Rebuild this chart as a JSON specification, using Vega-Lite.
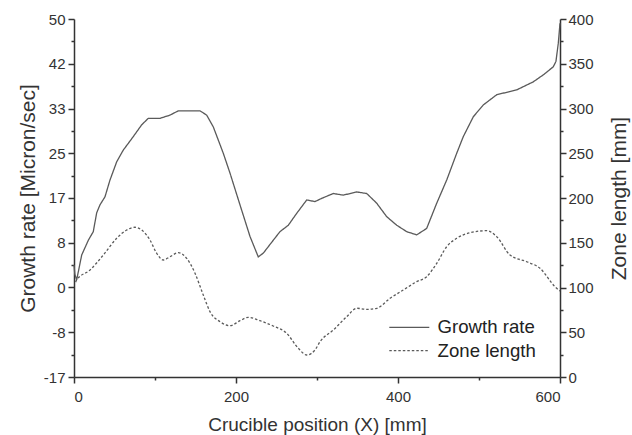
{
  "$schema": "https://vega.github.io/schema/vega-lite/v6.json",
  "autosize": "none",
  "width": 486,
  "height": 358,
  "padding": {"left": 74, "top": 19, "right": 72, "bottom": 58},
  "background": "white",
  "datasets": {
    "growth": [
      {"x": 0, "rate": 4.2}, {"x": 1, "rate": 2.5}, {"x": 3.3, "rate": 1.4},
      {"x": 9.5, "rate": 6.05}, {"x": 17.7, "rate": 8.8}, {"x": 23.8, "rate": 10.4},
      {"x": 28, "rate": 13.9}, {"x": 32.1, "rate": 15.4}, {"x": 38.3, "rate": 16.9},
      {"x": 44.4, "rate": 20.0}, {"x": 52.7, "rate": 23.4}, {"x": 60.9, "rate": 25.6},
      {"x": 73.2, "rate": 28.1}, {"x": 83.6, "rate": 30.3}, {"x": 91.7, "rate": 31.5},
      {"x": 106.2, "rate": 31.5}, {"x": 118.5, "rate": 32.1}, {"x": 128.8, "rate": 32.9},
      {"x": 155.6, "rate": 32.9}, {"x": 163.8, "rate": 32.1}, {"x": 172, "rate": 29.9},
      {"x": 184.3, "rate": 25.0}, {"x": 192.6, "rate": 21.3}, {"x": 204.9, "rate": 15.4},
      {"x": 217.3, "rate": 9.5}, {"x": 227.5, "rate": 5.7}, {"x": 233.7, "rate": 6.4},
      {"x": 246, "rate": 8.8}, {"x": 254.3, "rate": 10.4}, {"x": 264.6, "rate": 11.6},
      {"x": 274.9, "rate": 13.8}, {"x": 287.3, "rate": 16.3}, {"x": 297.5, "rate": 16.0},
      {"x": 305.8, "rate": 16.6}, {"x": 320.1, "rate": 17.5}, {"x": 332.5, "rate": 17.2},
      {"x": 349, "rate": 17.8}, {"x": 361.4, "rate": 17.5}, {"x": 373.7, "rate": 15.7},
      {"x": 386, "rate": 13.2}, {"x": 398.4, "rate": 11.6}, {"x": 410.7, "rate": 10.4},
      {"x": 423.1, "rate": 9.8}, {"x": 435.4, "rate": 11.0}, {"x": 447.8, "rate": 15.7},
      {"x": 460.1, "rate": 20.0}, {"x": 472.5, "rate": 25.0}, {"x": 480.6, "rate": 28.1},
      {"x": 493, "rate": 31.8}, {"x": 505.3, "rate": 34.0}, {"x": 521.9, "rate": 35.9},
      {"x": 546.5, "rate": 36.8}, {"x": 567, "rate": 38.3}, {"x": 579.4, "rate": 39.6},
      {"x": 591.7, "rate": 41.1}, {"x": 595, "rate": 42.1}, {"x": 597.9, "rate": 45.5},
      {"x": 600, "rate": 49.2}
    ],
    "zone": [
      {"x": 2, "length": 106}, {"x": 3.3, "length": 108.4}, {"x": 19.8, "length": 119.6},
      {"x": 36.2, "length": 136.3}, {"x": 52.7, "length": 155.0}, {"x": 65, "length": 164.2},
      {"x": 75.3, "length": 167.3}, {"x": 83.6, "length": 164.2}, {"x": 93.8, "length": 153.1},
      {"x": 102.1, "length": 138.2}, {"x": 110.2, "length": 130.7}, {"x": 118.5, "length": 134.4},
      {"x": 128.8, "length": 138.9}, {"x": 139.1, "length": 132.6}, {"x": 149.4, "length": 115.9},
      {"x": 159.6, "length": 91.6}, {"x": 167.9, "length": 73.0}, {"x": 180.2, "length": 61.8},
      {"x": 192.6, "length": 57.3}, {"x": 204.9, "length": 62.9}, {"x": 215.2, "length": 66.7},
      {"x": 229.6, "length": 62.9}, {"x": 246, "length": 57.0}, {"x": 262.6, "length": 48.8},
      {"x": 276.9, "length": 32.1}, {"x": 287.3, "length": 24.6}, {"x": 297.5, "length": 30.2},
      {"x": 303.7, "length": 39.4}, {"x": 320.1, "length": 52.5}, {"x": 336.7, "length": 67.4},
      {"x": 349, "length": 76.8}, {"x": 361.4, "length": 75.6}, {"x": 373.7, "length": 76.8},
      {"x": 390.1, "length": 87.9}, {"x": 406.5, "length": 97.2}, {"x": 423.1, "length": 106.5},
      {"x": 435.4, "length": 112.1}, {"x": 447.8, "length": 127.0}, {"x": 460.1, "length": 145.6},
      {"x": 472.5, "length": 155.0}, {"x": 488.9, "length": 161.2}, {"x": 509.5, "length": 163.5},
      {"x": 521.9, "length": 156.8}, {"x": 538.3, "length": 136.3}, {"x": 558.9, "length": 128.8},
      {"x": 575.3, "length": 121.5}, {"x": 593.8, "length": 100.9}, {"x": 600, "length": 96}
    ]
  },
  "layer": [
    {
      "data": {"name": "growth"},
      "mark": {"type": "line", "color": "#5a5a5a", "strokeWidth": 1.3},
      "encoding": {
        "x": {
          "field": "x", "type": "quantitative",
          "scale": {"domain": [0, 600], "nice": false},
          "axis": {"orient": "bottom", "values": [0, 200, 400, 600], "tickSize": 6, "labelPadding": 6,
                   "title": "Crucible position (X) [mm]", "titleFontSize": 19, "titlePadding": 11}
        },
        "y": {
          "field": "rate", "type": "quantitative",
          "scale": {"domain": [-16.6667, 50], "nice": false, "zero": false},
          "axis": {"orient": "left",
                   "values": [-16.6667, -8.3333, 0, 8.3333, 16.6667, 25, 33.3333, 41.6667, 50],
                   "labelExpr": "'' + round(datum.value)",
                   "tickSize": 6, "labelPadding": 3,
                   "title": "Growth rate [Micron/sec]", "titleFontSize": 21, "titlePadding": 5}
        },
        "strokeDash": {
          "datum": "Growth rate", "type": "nominal",
          "scale": {"domain": ["Growth rate", "Zone length"], "range": [[1, 0], [2.5, 2]]},
          "legend": {
            "orient": "none", "legendX": 326, "legendY": 299, "title": null,
            "symbolType": "M-4,0H4", "symbolSize": 100, "symbolStrokeWidth": 1.3,
            "symbolStrokeColor": "#5a5a5a", "labelFontSize": 18.6, "labelColor": "#222222",
            "labelOffset": 19, "rowPadding": 4.4, "padding": 0
          }
        }
      }
    },
    {
      "data": {"name": "growth"},
      "mark": {"type": "line", "opacity": 0},
      "encoding": {
        "x": {
          "field": "x", "type": "quantitative",
          "scale": {"domain": [0, 600], "nice": false},
          "axis": {"orient": "bottom", "values": [100, 300, 500], "tickSize": 3, "labels": false,
                   "domain": false, "title": null}
        },
        "y": {
          "field": "rate", "type": "quantitative",
          "scale": {"domain": [-16.6667, 50], "nice": false, "zero": false},
          "axis": {"orient": "left",
                   "values": [-12.5, -4.1667, 4.1667, 12.5, 20.8333, 29.1667, 37.5, 45.8333],
                   "tickSize": 3, "labels": false, "domain": false, "title": null}
        }
      }
    },
    {
      "data": {"name": "zone"},
      "mark": {"type": "line", "color": "#5a5a5a", "strokeWidth": 1.3, "interpolate": "monotone"},
      "encoding": {
        "x": {"field": "x", "type": "quantitative", "scale": {"domain": [0, 600], "nice": false}, "axis": null},
        "y": {
          "field": "length", "type": "quantitative",
          "scale": {"domain": [0, 400], "nice": false},
          "axis": {"orient": "right", "values": [0, 50, 100, 150, 200, 250, 300, 350, 400],
                   "tickSize": 6, "labelPadding": 2,
                   "title": "Zone length [mm]", "titleFontSize": 21, "titleAngle": 270,
                   "titleBaseline": "top", "titlePadding": 15}
        },
        "strokeDash": {"datum": "Zone length", "type": "nominal"}
      }
    },
    {
      "data": {"name": "zone"},
      "mark": {"type": "line", "opacity": 0},
      "encoding": {
        "x": {"field": "x", "type": "quantitative", "scale": {"domain": [0, 600], "nice": false}, "axis": null},
        "y": {
          "field": "length", "type": "quantitative",
          "scale": {"domain": [0, 400], "nice": false},
          "axis": {"orient": "right", "values": [25, 75, 125, 175, 225, 275, 325, 375],
                   "tickSize": 3, "labels": false, "domain": false, "title": null}
        }
      }
    }
  ],
  "resolve": {
    "scale": {"y": "independent"},
    "axis": {"x": "independent", "y": "independent"}
  },
  "config": {
    "font": "Liberation Sans",
    "view": {"stroke": null},
    "axis": {
      "grid": false,
      "domainColor": "#333333", "domainWidth": 1.5,
      "tickColor": "#333333", "tickWidth": 1.5,
      "labelColor": "#333333", "labelFontSize": 15, "labelFont": "Liberation Sans",
      "titleColor": "#333333", "titleFontWeight": "normal", "titleFont": "Liberation Sans"
    },
    "legend": {"labelFont": "Liberation Sans"}
  }
}
